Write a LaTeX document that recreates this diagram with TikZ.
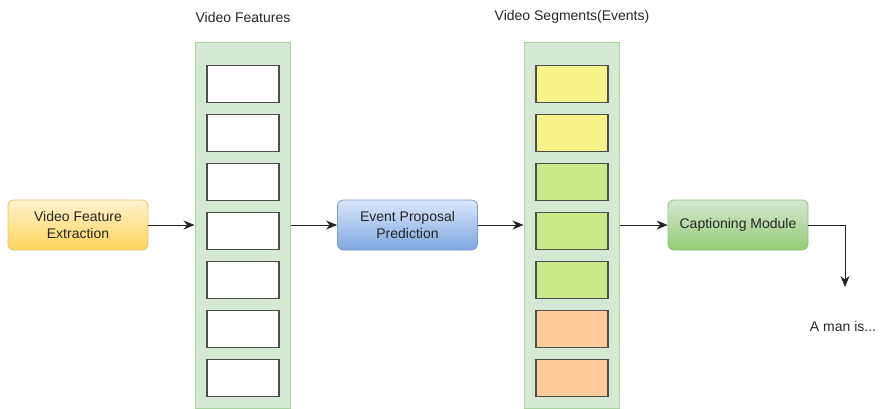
\documentclass[tikz,border=0pt]{standalone}
\usepackage{fontspec}
\setmainfont{Liberation Sans}
\usetikzlibrary{arrows.meta}

\definecolor{txt}{HTML}{262626}
\definecolor{arr}{HTML}{222222}
\definecolor{colfill}{HTML}{D5E8D4}
\definecolor{colborder}{HTML}{A8D39E}
\definecolor{cellborder}{HTML}{4D4D4D}
\definecolor{segyellow}{HTML}{F8F38A}
\definecolor{seggreen}{HTML}{CDE88A}
\definecolor{segorange}{HTML}{FFCC99}
\definecolor{yeltop}{HTML}{FFF2CC}
\definecolor{yelbot}{HTML}{FFD45E}
\definecolor{yelline}{HTML}{E6C46A}
\definecolor{bluetop}{HTML}{DAE8FC}
\definecolor{bluebot}{HTML}{7EA6E0}
\definecolor{blueline}{HTML}{7A9CD0}
\definecolor{grntop}{HTML}{D5E8D4}
\definecolor{grnbot}{HTML}{92CC70}
\definecolor{grnline}{HTML}{8CC47A}

\begin{document}
\begin{tikzpicture}[x=1pt, y=-1pt,
    box/.style={rounded corners=6pt, minimum width=140pt, minimum height=50pt,
      align=center, text=txt, font=\fontsize{14}{17}\selectfont, line width=0.8pt},
    column/.style={draw=colborder, fill=colfill, minimum width=95pt,
      minimum height=366pt, inner sep=0pt, line width=1pt},
    cell/.style={draw=cellborder, minimum width=72pt, minimum height=37pt,
      inner sep=0pt, line width=1.3pt},
    title/.style={text=txt, font=\fontsize{14}{17}\selectfont},
    flow/.style={draw=arr, line width=0.9pt, -{Stealth[length=11pt,width=9pt]}}]
    \useasboundingbox (0,0) rectangle (880,408);

    % columns
    \node[column] (features) at (242.5, 225) {};
    \node[column] (segments) at (571.5, 225) {};
    \node[title] (featTitle) at (243, 17) {Video Features};
    \node[title] (segTitle) at (572, 17) {Video Segments(Events)};

    \foreach \i/\c in {0/white, 1/white, 2/white, 3/white, 4/white, 5/white, 6/white}
      \node[cell, fill=\c] (feat\i) at (243, 84+49*\i) {};
    \foreach \i/\c in {0/segyellow, 1/segyellow, 2/seggreen, 3/seggreen, 4/seggreen, 5/segorange, 6/segorange}
      \node[cell, fill=\c] (seg\i) at (572, 84+49*\i) {};

    % processing steps
    \node[box, draw=yelline, top color=yeltop, bottom color=yelbot] (extract) at (78, 225) {Video Feature\\Extraction};
    \node[box, draw=blueline, top color=bluetop, bottom color=bluebot] (proposal) at (407.5, 225) {Event Proposal\\Prediction};
    \node[box, draw=grnline, top color=grntop, bottom color=grnbot] (caption) at (738, 225) {Captioning Module};
    \node[title] (output) at (843, 326) {A man is...};
    \coordinate (outTip) at (845, 287);

    \draw[flow] (extract) -- (features);
    \draw[flow] (features) -- (proposal);
    \draw[flow] (proposal) -- (segments);
    \draw[flow] (segments) -- (caption);
    \draw[flow] (caption.east) -| (outTip);
\end{tikzpicture}
\end{document}
